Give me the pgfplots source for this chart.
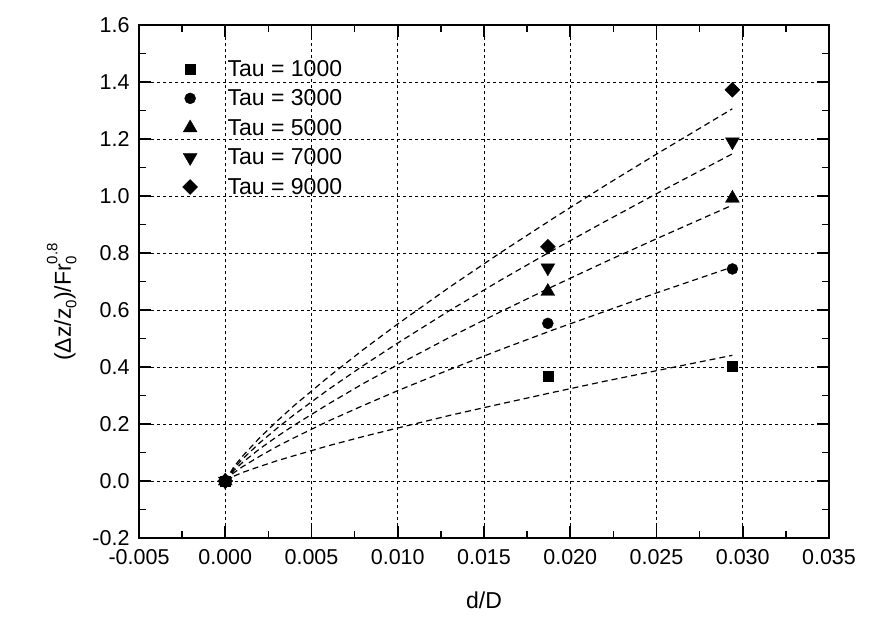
\documentclass[border=0pt]{standalone}
\usepackage{fontspec}
\setmainfont{Liberation Sans}
\usepackage{pgfplots}
\pgfplotsset{compat=1.18}
\usepackage{pgfplotstable}

\pgfplotstableread{
x      f1    f3    f5    f7    f9
0      0     0     0     0     0
0.0005 0.017 0.029 0.037 0.044 0.050
0.001  0.030 0.050 0.065 0.077 0.087
0.002  0.051 0.087 0.113 0.134 0.152
0.003  0.071 0.121 0.156 0.185 0.210
0.004  0.089 0.152 0.196 0.233 0.265
0.006  0.124 0.211 0.271 0.322 0.366
0.008  0.156 0.265 0.342 0.405 0.461
0.010  0.186 0.317 0.408 0.484 0.551
0.013  0.230 0.391 0.504 0.598 0.680
0.016  0.271 0.462 0.595 0.706 0.803
0.019  0.311 0.530 0.683 0.810 0.921
0.022  0.350 0.595 0.768 0.910 1.036
0.025  0.387 0.660 0.850 1.008 1.147
0.0294 0.441 0.751 0.968 1.148 1.306
}\fits

\pgfplotstableread{
x      t1    t3    t5    t7    t9
0      0     0     0     0     0
0.0187 0.368 0.553 0.665 0.748 0.822
0.0294 0.403 0.744 0.992 1.190 1.373
}\pts

\begin{document}
\begin{tikzpicture}
\begin{axis}[
  name=ax,
  scale only axis, width=690pt, height=513pt,
  xmin=-0.005, xmax=0.035, ymin=-0.2, ymax=1.6,
  xtick={-0.005,0,0.005,0.01,0.015,0.02,0.025,0.03,0.035},
  ytick={-0.2,0,0.2,0.4,0.6,0.8,1.0,1.2,1.4,1.6},
  minor x tick num=1, minor y tick num=1,
  scaled x ticks=false, scaled y ticks=false,
  x tick label style={/pgf/number format/fixed, /pgf/number format/fixed zerofill, /pgf/number format/precision=3, yshift=-8pt},
  y tick label style={/pgf/number format/fixed, /pgf/number format/fixed zerofill, /pgf/number format/precision=1, xshift=-6pt},
  /pgf/number format/assume math mode=true,
  tick label style={font=\fontsize{21.5}{25}\selectfont},
  label style={font=\fontsize{23}{28}\selectfont},
  grid=major,
  major grid style={black, line width=0.8pt, dash pattern=on 3pt off 3pt},
  axis line style={line width=1.6pt},
  every tick/.style={black, line width=1.6pt},
  major tick length=12pt, minor tick length=7pt,
  xlabel={d/D},
  ylabel={(Δz/z\raisebox{-0.45ex}{\fontsize{15}{15}\selectfont 0})/Fr\rlap{\raisebox{-0.45ex}{\fontsize{15}{15}\selectfont 0}}\raisebox{1.1ex}{\fontsize{15}{15}\selectfont 0.8}},
  x label style={at={(axis description cs:0.5,0)}, yshift=-62pt, anchor=center},
  y label style={at={(axis description cs:-0.112,0.46)}, anchor=center},
  legend style={at={(axis description cs:0.063,0.936)}, anchor=north west,
    draw=none, fill=none, inner sep=0pt, nodes={inner sep=2pt},
    row sep=8pt, column sep=28pt, font=\fontsize{23}{28}\selectfont},
  legend cell align=left,
]
\addplot[only marks, mark=square*, mark size=5pt, black] table[x=x,y=t1]{\pts};
\addlegendentry{Tau = 1000}
\addplot[only marks, mark=*, mark size=5.5pt, black] table[x=x,y=t3]{\pts};
\addlegendentry{Tau = 3000}
\addplot[only marks, mark=triangle*, mark size=8pt, black] table[x=x,y=t5]{\pts};
\addlegendentry{Tau = 5000}
\addplot[only marks, mark=triangle*, mark size=8pt, mark options={rotate=180}, black] table[x=x,y=t7]{\pts};
\addlegendentry{Tau = 7000}
\addplot[only marks, mark=square*, mark size=5.3pt, mark options={rotate=45}, black] table[x=x,y=t9]{\pts};
\addlegendentry{Tau = 9000}

\addplot[forget plot, no marks, black, line width=1.2pt, dash pattern=on 6pt off 4pt] table[x=x,y=f1]{\fits};
\addplot[forget plot, no marks, black, line width=1.2pt, dash pattern=on 6pt off 4pt] table[x=x,y=f3]{\fits};
\addplot[forget plot, no marks, black, line width=1.2pt, dash pattern=on 6pt off 4pt] table[x=x,y=f5]{\fits};
\addplot[forget plot, no marks, black, line width=1.2pt, dash pattern=on 6pt off 4pt] table[x=x,y=f7]{\fits};
\addplot[forget plot, no marks, black, line width=1.2pt, dash pattern=on 6pt off 4pt] table[x=x,y=f9]{\fits};
\end{axis}
\pgfresetboundingbox
\path[use as bounding box] ([shift={(-139pt,-85pt)}]ax.south west) rectangle ([shift={(52pt,25pt)}]ax.north east);
\end{tikzpicture}
\end{document}
